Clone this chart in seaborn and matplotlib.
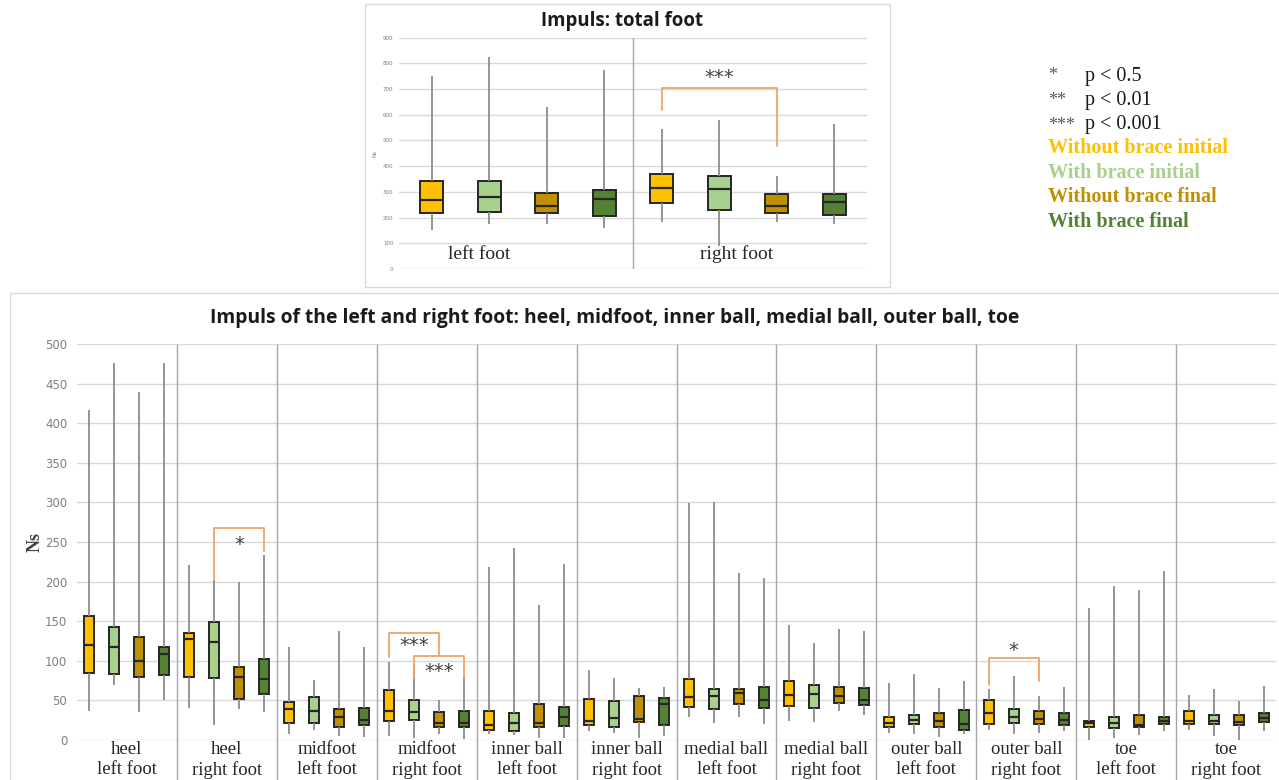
import pandas as pd
import seaborn as sns
import matplotlib.pyplot as plt
from matplotlib.patches import Rectangle

# conditions and colours
conditions = ["Without brace initial", "With brace initial", "Without brace final", "With brace final"]
colors = ["#FFC000", "#A9D18E", "#BF9000", "#548235"]

# total foot impulse (Ns): one row per foot, one value per condition
total_groups = ["left foot", "right foot"]
total_low = [[153, 176, 175, 159], [181, 88, 183, 176]]
total_q1 = [[216, 221, 216, 208], [255, 228, 216, 211]]
total_median = [[269, 280, 245, 273], [316, 311, 245, 262]]
total_q3 = [[342, 341, 295, 306], [369, 363, 291, 293]]
total_high = [[749, 824, 632, 775], [545, 578, 363, 563]]

# impulse per foot region (Ns)
regions = ["heel\nleft foot", "heel\nright foot", "midfoot\nleft foot", "midfoot\nright foot",
           "inner ball\nleft foot", "inner ball\nright foot", "medial ball\nleft foot",
           "medial ball\nright foot", "outer ball\nleft foot", "outer ball\nright foot",
           "toe\nleft foot", "toe\nright foot"]
region_low = [[37, 69, 35, 50], [40, 19, 39, 35], [8, 13, 5, 4], [5, 2, 8, 1],
              [7, 6, 2, 2], [11, 9, 2, 5], [29, 22, 29, 20], [24, 23, 36, 32],
              [9, 8, 4, 7], [13, 8, 9, 11], [0, 2, 6, 11], [13, 5, 0, 11]]
region_q1 = [[85, 83, 79, 82], [80, 78, 52, 58], [22, 21, 17, 19], [24, 25, 16, 16],
             [13, 11, 16, 18], [19, 16, 23, 19], [42, 39, 45, 41], [43, 40, 47, 44],
             [16, 20, 16, 13], [20, 22, 20, 19], [17, 15, 16, 20], [20, 20, 19, 23]]
region_median = [[120, 118, 100, 109], [127, 124, 79, 77], [39, 37, 29, 25], [37, 35, 21, 22],
                 [19, 22, 21, 29], [24, 28, 27, 46], [54, 56, 59, 51], [57, 58, 56, 51],
                 [22, 25, 24, 20], [34, 29, 27, 25], [21, 21, 19, 24], [24, 24, 23, 28]]
region_q3 = [[157, 143, 130, 118], [135, 149, 92, 102], [48, 54, 39, 40], [63, 51, 35, 37],
             [37, 34, 46, 42], [52, 49, 56, 53], [77, 65, 65, 67], [75, 69, 67, 66],
             [29, 32, 34, 38], [51, 39, 37, 34], [24, 29, 32, 29], [37, 32, 32, 34]]
region_high = [[417, 476, 439, 476], [221, 202, 199, 234], [117, 76, 138, 118], [98, 95, 50, 80],
               [219, 242, 171, 222], [88, 78, 66, 67], [299, 300, 211, 205], [145, 123, 140, 137],
               [72, 83, 66, 75], [65, 81, 56, 67], [167, 194, 190, 213], [57, 65, 49, 68]]

# significance brackets:
# (group, from condition, to condition, bar level, left end, right end, label, label level)
total_brackets = [(1, 0, 2, 705, 620, 480, "***", 746)]
region_brackets = [(1, 1, 3, 268, 203, 238, "*", 247),
                   (3, 0, 2, 135, 105, 107, "***", 119),
                   (3, 1, 3, 106, 78, 80, "***", 86),
                   (9, 0, 2, 104, 69, 74, "*", 113)]


def to_frame(groups, low, q1, med, q3, high):
    rows = []
    for g, name in enumerate(groups):
        for c, cond in enumerate(conditions):
            for v in (low[g][c], q1[g][c], med[g][c], q3[g][c], high[g][c]):
                rows.append({"group": name, "condition": cond, "value": v})
    return pd.DataFrame(rows)


total_df = to_frame(total_groups, total_low, total_q1, total_median, total_q3, total_high)
region_df = to_frame(regions, region_low, region_q1, region_median, region_q3, region_high)

sns.set_style("white")
serif = ["Liberation Serif", "DejaVu Serif"]
sans = ["Open Sans", "DejaVu Sans"]
edge = "#262626"
grid_c = "#d9d9d9"
sep_c = "#a6a6a6"
bracket_c = "#F0A468"

box_kws = dict(hue="condition", hue_order=conditions, palette=colors, saturation=1,
               width=1.0, gap=0.6, whis=(0, 100), showcaps=False, linecolor=edge,
               linewidth=1.4, legend=False,
               whiskerprops=dict(color="#8c8c8c", linewidth=1.3),
               medianprops=dict(color=edge, linewidth=1.6))

fig = plt.figure(figsize=(12.79, 7.8), dpi=100)

# panel frames
fig.patches.append(Rectangle((0.2854, 0.6321), 0.4105, 0.3628, transform=fig.transFigure,
                             fill=False, edgecolor=grid_c, linewidth=1))
fig.patches.append(Rectangle((0.0078, -0.05), 1.05, 0.6744, transform=fig.transFigure,
                             fill=False, edgecolor=grid_c, linewidth=1))


def dodge_x(g, c):
    return g - 0.375 + 0.25 * c


def draw_brackets(ax, brackets):
    for g, c0, c1, top, lo0, lo1, label, ly in brackets:
        x0, x1 = dodge_x(g, c0), dodge_x(g, c1)
        ax.plot([x0, x0, x1, x1], [lo0, top, top, lo1], color=bracket_c, linewidth=1.3,
                clip_on=False, zorder=4)
        ax.text((x0 + x1) / 2, ly, label, ha="center", va="center",
                fontsize=14, color="#404040", family="DejaVu Sans")


# ---- top panel: total foot ----
ax1 = fig.add_axes([0.3120, 0.6551, 0.3659, 0.2966])
sns.boxplot(data=total_df, x="group", y="value", ax=ax1, **box_kws)
ax1.set_ylim(0, 900)
ax1.set_yticks(range(0, 901, 100))
ax1.yaxis.grid(True, color=grid_c, linewidth=1)
ax1.set_axisbelow(True)
ax1.tick_params(axis="y", labelsize=4, labelcolor="#7f7f7f", length=0, pad=4)
ax1.set_xticks([])
ax1.set_xlabel("")
ax1.set_ylabel("Ns", fontsize=4, color="#7f7f7f")
ax1.yaxis.set_label_coords(-0.045, 0.5)
for s in ax1.spines.values():
    s.set_visible(False)
ax1.axvline(0.5, color=sep_c, linewidth=1, zorder=1)
ax1.text(-0.17, 58, "left foot", ha="center", va="center", fontsize=14, family=serif, color="#262626")
ax1.text(0.95, 58, "right foot", ha="center", va="center", fontsize=14, family=serif, color="#262626")
draw_brackets(ax1, total_brackets)
fig.text(622 / 1279, 1 - 21 / 780, "Impuls: total foot", ha="center", va="center",
         fontsize=13.4, fontweight="bold", family=sans, color="#1a1a1a")

# ---- bottom panel: regions ----
ax2 = fig.add_axes([0.0602, 0.0513, 0.9375, 0.5077])
sns.boxplot(data=region_df, x="group", y="value", ax=ax2, **box_kws)
ax2.set_ylim(0, 500)
ax2.set_xlim(-0.5, len(regions) - 0.5)
ax2.set_yticks(range(0, 501, 50))
ax2.yaxis.grid(True, color=grid_c, linewidth=1)
ax2.set_axisbelow(True)
ax2.tick_params(axis="y", labelsize=8.5, labelcolor="#7f7f7f", length=0, pad=7)
ax2.tick_params(axis="x", length=0, pad=1, labelsize=13.5, labelcolor="#262626")
ax2.set_xticks(range(len(regions)))
ax2.set_xticklabels(regions, family=serif, linespacing=1.2)
ax2.set_xlabel("")
ax2.set_ylabel("Ns", fontsize=13, fontweight="bold", family=serif, color="#404040")
ax2.yaxis.set_label_coords(-0.028, 0.5)
for s in ax2.spines.values():
    s.set_visible(False)
ax2.vlines([g + 0.5 for g in range(len(regions) - 1)], -80, 500, color=sep_c, linewidth=1,
           clip_on=False, zorder=1)
draw_brackets(ax2, region_brackets)
fig.text(615 / 1279, 1 - 318 / 780,
         "Impuls of the left and right foot: heel, midfoot, inner ball, medial ball, outer ball, toe",
         ha="center", va="center", fontsize=13.9, fontweight="bold", family=sans, color="#1a1a1a")

# ---- significance and colour key ----
key_x = 1048 / 1279
stars = ["*", "**", "***"]
p_text = ["p < 0.5", "p < 0.01", "p < 0.001"]
for i, (st, pt) in enumerate(zip(stars, p_text)):
    y = 1 - (76 + 24.5 * i) / 780
    fig.text(key_x, y, st, ha="left", va="center", fontsize=13, family=serif, color="#595959")
    fig.text(1085 / 1279, y, pt, ha="left", va="center", fontsize=14.5, family=serif, color="#1a1a1a")
for i, (cond, col) in enumerate(zip(conditions, colors)):
    y = 1 - (148 + 24.7 * i) / 780
    fig.text(key_x, y, cond, ha="left", va="center", fontsize=14.5, fontweight="bold",
             family=serif, color=col)

fig.savefig("out.png", dpi=100)
